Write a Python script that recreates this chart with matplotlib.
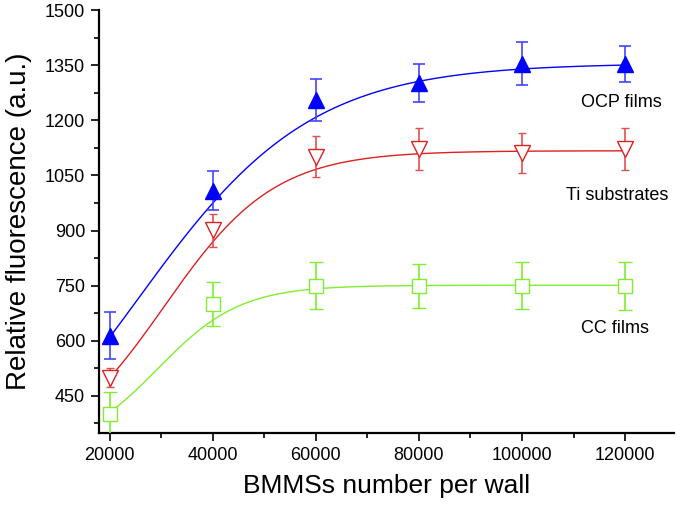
import numpy as np
import matplotlib
matplotlib.use("Agg")
import matplotlib.pyplot as plt
from matplotlib.ticker import MultipleLocator

plt.rcParams['font.family'] = ['Liberation Sans', 'DejaVu Sans']

# ---- data ----
x_vals = [20000, 40000, 60000, 80000, 100000, 120000]
ocp_y = [614, 1008, 1256, 1302, 1354, 1353]
ocp_err = [64, 53, 57, 52, 59, 50]
ti_y = [500, 901, 1101, 1121, 1111, 1121]
ti_err = [25, 45, 55, 57, 55, 57]
cc_y = [400, 700, 750, 750, 750, 750]
cc_err = [60, 60, 63, 60, 64, 65]

# Boltzmann fit parameters (A1, A2, x0, dx)
ocp_fit = [51, 1355, 24900, 17000]
ti_fit = [270, 1117, 30560, 10680]
cc_fit = [296, 751, 29270, 8050]

labels = ["OCP films", "Ti substrates", "CC films"]
x_ticks = [20000, 40000, 60000, 80000, 100000, 120000]
y_ticks = [450, 600, 750, 900, 1050, 1200, 1350, 1500]


def boltzmann(x, p):
    a1, a2, x0, dx = p
    return a2 + (a1 - a2) / (1 + np.exp((x - x0) / dx))


fig = plt.figure(figsize=(6.8, 5.08), dpi=100)
ax = fig.add_axes([99 / 680, 1 - 433 / 508, (674 - 99) / 680, (433 - 10) / 508])

xf = np.linspace(x_vals[0], x_vals[-1], 300)

blue = '#0000ff'
blue_e = '#4444ff'
red = '#dd2020'
red_e = '#e05050'
green = '#80ee30'

ax.plot(xf, boltzmann(xf, ocp_fit), color=blue, lw=1.0, zorder=2)
ax.plot(xf, boltzmann(xf, ti_fit), color=red, lw=1.0, zorder=2)
ax.plot(xf, boltzmann(xf, cc_fit), color=green, lw=1.0, zorder=2)

ax.errorbar(x_vals, ocp_y, yerr=ocp_err, fmt='^', ms=12, color=blue,
            mfc=blue, mec=blue, ecolor=blue_e, elinewidth=1.2, capsize=4.5,
            capthick=1.2, zorder=3)
ax.errorbar(x_vals, ti_y, yerr=ti_err, fmt='v', ms=12, color=red,
            mfc='white', mec=red, mew=1.0, ecolor=red_e, elinewidth=1.2,
            capsize=3, capthick=1.2, zorder=3)
ax.errorbar(x_vals, cc_y, yerr=cc_err, fmt='s', ms=10.5, color=green,
            mfc='white', mec=green, mew=1.0, ecolor=green, elinewidth=1.2,
            capsize=5, capthick=1.2, zorder=3)

ax.text(111400, 1247, labels[0], fontsize=13, ha='left', va='center')
ax.text(108500, 994, labels[1], fontsize=13, ha='left', va='center')
ax.text(111400, 634, labels[2], fontsize=13, ha='left', va='center')

ax.set_xlim(17900, 129500)
ax.set_ylim(349, 1500)
ax.set_xticks(x_ticks)
ax.set_yticks(y_ticks)
ax.xaxis.set_minor_locator(MultipleLocator(10000))
ax.yaxis.set_minor_locator(MultipleLocator(75))

for s in ['top', 'right']:
    ax.spines[s].set_visible(False)
for s in ['left', 'bottom']:
    ax.spines[s].set_linewidth(1.6)

ax.tick_params(which='major', direction='out', length=6, width=1.2,
               labelsize=13, pad=4)
ax.tick_params(which='minor', direction='out', length=3.5, width=1.2)

ax.set_xlabel("BMMSs number per wall", fontsize=19, labelpad=7)
ax.set_ylabel("Relative fluorescence (a.u.)", fontsize=20, labelpad=9)

fig.savefig("out.png", dpi=100)
